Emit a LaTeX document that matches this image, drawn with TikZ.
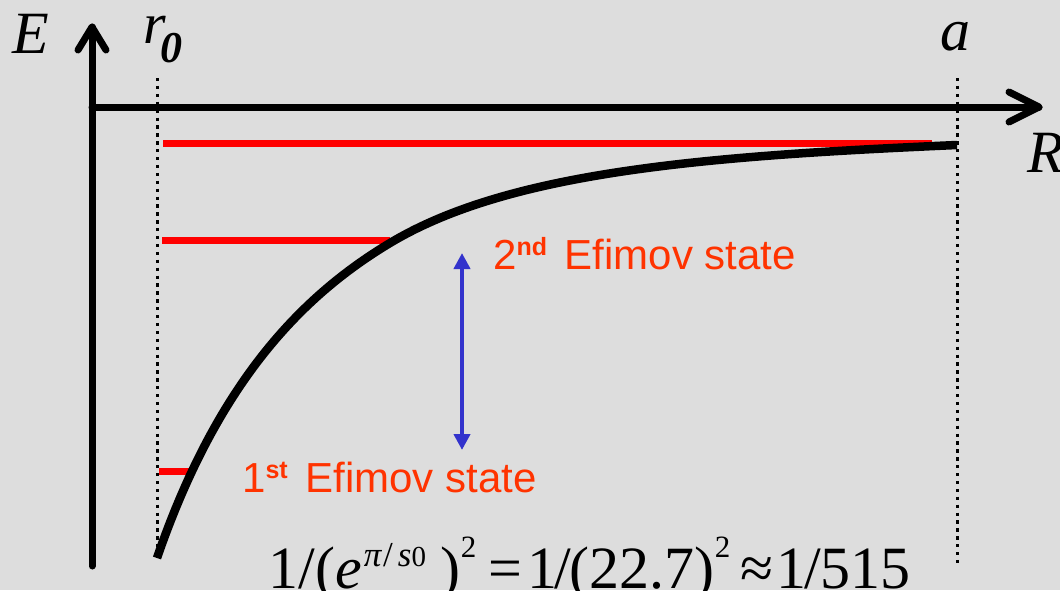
\documentclass[tikz,border=0pt]{standalone}
\usepackage{fontspec}
\setmainfont{Liberation Serif}
\newfontfamily\arialfont{Liberation Sans}
\usetikzlibrary{arrows.meta}
\definecolor{bg}{RGB}{221,221,221}
\definecolor{lvlred}{RGB}{255,0,0}
\definecolor{lblred}{RGB}{255,51,0}
\definecolor{arrblue}{RGB}{51,51,204}
\newcommand{\supsz}[1]{{\fontsize{31}{31}\selectfont #1}}
\begin{document}
\begin{tikzpicture}[x=1pt,y=-1pt,
  axis/.style={line width=7pt, line cap=round, line join=round},
  guide/.style={line width=3pt, dash pattern=on 3.3pt off 4.6pt},
  level/.style={lvlred, line width=7pt},
  potential/.style={line width=8.5pt},
  ratioarrow/.style={arrblue, line width=4pt, {Triangle[length=16pt,width=16pt]}-{Triangle[length=16pt,width=16pt]}},
  mathlbl/.style={inner sep=0pt, anchor=base west, font=\fontsize{60}{60}\selectfont\itshape},
  statelbl/.style={inner sep=0pt, anchor=base west, text=lblred, font=\arialfont\fontsize{42}{42}\selectfont},
  formula/.style={inner sep=0pt, anchor=base west, font=\fontsize{60}{60}\selectfont},
]
\fill[bg] (0,0) rectangle (1060,590);
\useasboundingbox (0,0) rectangle (1060,590);

% axes
\coordinate (origin) at (92,107);
\coordinate (ybot) at (92,566);
\coordinate (ytip) at (92,27);
\coordinate (xtip) at (1039,107);
\draw[axis] (ybot) -- (ytip);
\draw[axis] (78,50) -- (ytip) -- (106,50);
\draw[axis] (origin) -- (xtip);
\draw[axis] (1009,92) -- (xtip) -- (1009,122);

% guides
\coordinate (r0top) at (157,78);
\coordinate (r0bot) at (157,552);
\coordinate (atop) at (957,78);
\coordinate (abot) at (957,567);
\draw[guide] (r0top) -- (r0bot);
\draw[guide] (atop) -- (abot);

% levels
\coordinate (l1a) at (163,143.5);
\coordinate (l1b) at (932,143.5);
\coordinate (l2a) at (162,240.5);
\coordinate (l2b) at (390,240.5);
\coordinate (l3a) at (159,471);
\coordinate (l3b) at (192,471);
\draw[level] (l1a) -- (l1b);
\draw[level] (l2a) -- (l2b);
\draw[level] (l3a) -- (l3b);

% potential curve
\coordinate (cstart) at (157,558);
\coordinate (cmid) at (390,243);
\coordinate (cend) at (957,145);
\draw[potential] (cstart) .. controls (217,384) and (300,297) .. (cmid)
  .. controls (510,171) and (707,156) .. (cend);

% ratio arrow
\coordinate (arrtop) at (462,253);
\coordinate (arrbot) at (462,450);
\draw[ratioarrow] (arrbot) -- (arrtop);

% labels
\node[mathlbl] (Elbl) at (12,53) {E};
\node[mathlbl, font=\fontsize{58}{58}\selectfont\itshape] (rlbl) at (143,43) {r};
\node[mathlbl, font=\fontsize{44}{44}\selectfont\itshape\bfseries] (r0sub) at (160,62) {0};
\node[mathlbl] (albl) at (940,50) {a};
\node[mathlbl] (Rlbl) at (1027,172) {R};

\node[statelbl] (second) at (493,269) {2\raisebox{14pt}{\fontsize{25}{25}\selectfont\bfseries nd}\hspace{6pt} Efimov state};
\node[statelbl] (first) at (242,492) {1\raisebox{14pt}{\fontsize{25}{25}\selectfont\bfseries st}\hspace{6pt} Efimov state};

\node[formula] (ratio) at (268.4,588.5) {1/(\textit{e}\raisebox{22pt}{\makebox[79pt][l]{\fontsize{35}{35}\selectfont\hspace{2pt}\textit{π}\hspace{1pt}/\hspace{5pt}\textit{s}{\fontsize{29}{29}\selectfont 0}}})\raisebox{31pt}{\supsz{2}}\hspace{12pt}=\hspace{5pt}1\kern-3pt/\kern-1pt(22.7)\raisebox{31pt}{\supsz{2}}\hspace{10pt}≈\hspace{3pt}1\kern-2pt/\kern-1pt515};
\end{tikzpicture}
\end{document}
